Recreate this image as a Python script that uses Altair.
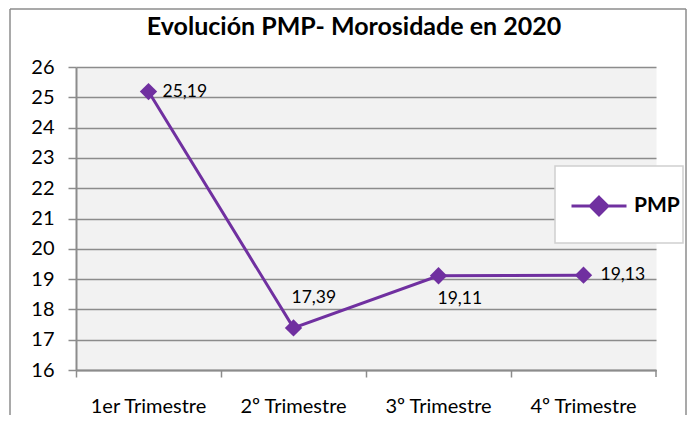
import altair as alt
import pandas as pd

categories = ["1er Trimestre", "2º Trimestre", "3º Trimestre", "4º Trimestre"]
values = [25.19, 17.39, 19.11, 19.13]
labels = ["25,19", "17,39", "19,11", "19,13"]
series = ["PMP", "PMP", "PMP", "PMP"]
y_ticks = list(range(16, 27))

df = pd.DataFrame({"trimestre": categories, "pmp": values, "label": labels,
                   "serie": series, "idx": list(range(4))})

PURPLE = "#7030A0"
GRAY = "#8c8c8c"
FONT = "Lato"
W, H = 580, 303

x_enc = alt.X("trimestre:N", sort=categories, title=None,
              scale=alt.Scale(type="band", paddingInner=0, paddingOuter=0),
              axis=alt.Axis(labelAngle=0, bandPosition=0, labelFontSize=20,
                            labelPadding=19, tickSize=7, tickColor=GRAY,
                            tickWidth=1.5, domainColor=GRAY, domainWidth=2,
                            labelColor="#000", grid=False, labelFont=FONT))
y_enc = alt.Y("pmp:Q", title=None,
              scale=alt.Scale(domain=[16, 26], nice=False, zero=False),
              axis=alt.Axis(values=y_ticks, labelFontSize=20, labelPadding=14,
                            tickSize=8, tickColor=GRAY, tickWidth=1.5,
                            domainColor=GRAY, domainWidth=2,
                            gridColor=GRAY, gridWidth=1.5, labelColor="#000",
                            labelFont=FONT))

base = alt.Chart(df).encode(x=x_enc, y=y_enc)

one = alt.Data(values=[{}])
frame_left = alt.Chart(one).mark_rule(color=GRAY, strokeWidth=1.5).encode(
    x=alt.value(-66), y=alt.value(-58), y2=alt.value(360))
frame_top = alt.Chart(one).mark_rule(color=GRAY, strokeWidth=1.5).encode(
    x=alt.value(-66), x2=alt.value(610), y=alt.value(-58))
frame_right = alt.Chart(one).mark_rule(color=GRAY, strokeWidth=1.5).encode(
    x=alt.value(610), y=alt.value(-58), y2=alt.value(360))
end_tick = alt.Chart(one).mark_rule(color=GRAY, strokeWidth=1.5).encode(
    x=alt.value(W), y=alt.value(H), y2=alt.value(H + 7))

legend_box = alt.Chart(one).mark_rect(
    fill="white", stroke="#d0d0d0", strokeWidth=1.5
).encode(x=alt.value(479), x2=alt.value(607), y=alt.value(99), y2=alt.value(176))

line = base.mark_line(strokeWidth=3).encode(
    color=alt.Color("serie:N", scale=alt.Scale(domain=["PMP"], range=[PURPLE]),
                    legend=alt.Legend(title=None, orient="none", legendX=494, legendY=110,
                                      symbolType="M-1,0L1,0M0,-0.32L0.32,0L0,0.32L-0.32,0Z",
                                      symbolSize=3025, symbolStrokeWidth=3,
                                      symbolFillColor=PURPLE, symbolStrokeColor=PURPLE,
                                      labelFontSize=21, labelFontWeight="bold",
                                      labelFont=FONT, labelColor="#000", labelOffset=6,
                                      padding=0))
)
points = base.mark_point(shape="diamond", filled=True, size=300, color=PURPLE, opacity=1)

offsets = [(14, 0), (-2, -30), (-1, 23), (17, 0)]
texts = []
for i, (dx, dy) in enumerate(offsets):
    texts.append(
        base.transform_filter(alt.datum.idx == i)
        .mark_text(align="left", baseline="middle", dx=dx, dy=dy, fontSize=17.5,
                   font=FONT, color="#000")
        .encode(text="label:N")
    )

chart = alt.layer(frame_left, frame_top, frame_right, end_tick, legend_box, line, points,
                  *texts).properties(
    width=W, height=H,
    title=alt.Title("Evolución  PMP-  Morosidade  en  2020", fontSize=25,
                    fontWeight="bold", font=FONT, color="#000", dx=-12, offset=0,
                    dy=52, baseline="alphabetic"),
    autosize=alt.AutoSizeParams(type="none"),
    padding={"left": 68, "top": 59, "right": 31, "bottom": 45},
).configure_view(fill="#F2F2F2", strokeOpacity=0)

chart.save("out.html", embed_options={"renderer": "svg", "actions": False})
